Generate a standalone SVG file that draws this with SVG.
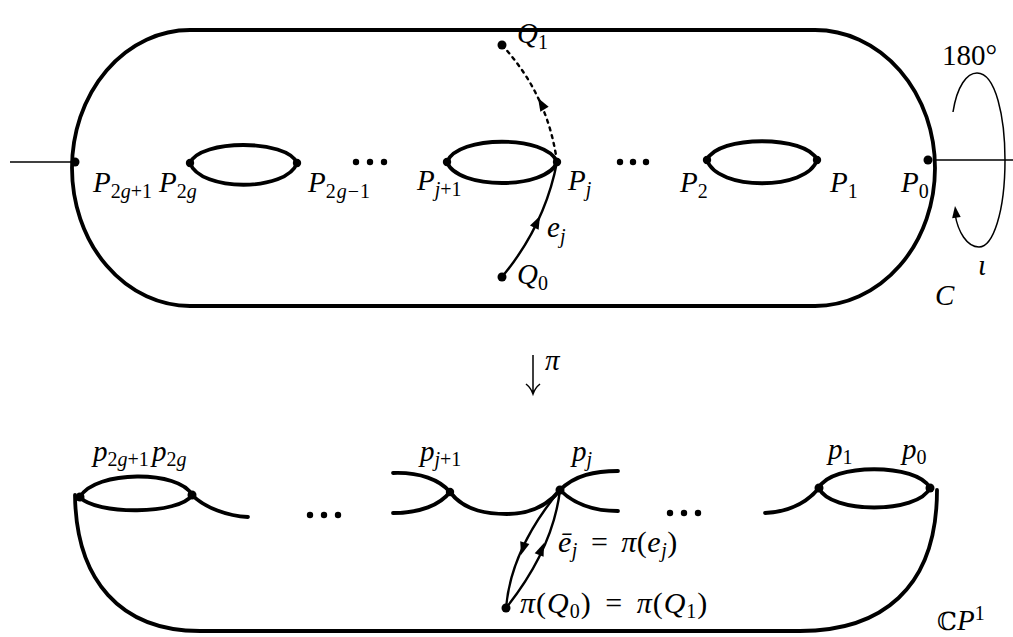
<svg xmlns="http://www.w3.org/2000/svg" xmlns:xlink="http://www.w3.org/1999/xlink" width="1013" height="637" viewBox="0 0 1013 637">
<defs>
<style>
.thick{fill:none;stroke:#000;stroke-width:3.8;stroke-linecap:round;stroke-linejoin:round}
.med{fill:none;stroke:#000;stroke-width:2.4;stroke-linecap:round}
.thin{fill:none;stroke:#000;stroke-width:1.5}
.dot{fill:#000}
.m{font-family:"Liberation Serif","DejaVu Serif",serif;font-style:italic;font-size:29px;fill:#000}
.r{font-style:normal}
.sb{font-size:20px;font-style:normal}
.it{font-style:italic}
.eq{font-size:30px;word-spacing:5px}
</style>
<path id="ah" d="M0,0 L-13,-4.8 L-13,4.8 Z" fill="#000"/>
</defs>
<rect width="1013" height="637" fill="#fff"/>

<g id="surface-C">
<path class="thick" d="M190,30 H815 A120,138 0 0 1 815,306 H190 A118,138 0 0 1 190,30 Z"/>
<line class="thin" x1="10" y1="162" x2="72" y2="162"/>
<line class="thin" x1="935" y1="160" x2="1013" y2="160"/>
</g>

<g id="top-loops">
<path class="thick" d="M190,163 C200,139 287,139 297,163 C287,192 200,192 190,163 Z"/>
<path class="thick" d="M447,162 C457,135 547,135 557,162 C547,190 457,190 447,162 Z"/>
<path class="thick" d="M707,160 C717,135 807,135 817,160 C807,191 717,191 707,160 Z"/>
</g>

<g id="top-points">
<circle class="dot" cx="75" cy="162" r="4.5"/>
<circle class="dot" cx="190" cy="163" r="4.2"/>
<circle class="dot" cx="297" cy="163" r="4.2"/>
<circle class="dot" cx="447" cy="162" r="4.2"/>
<circle class="dot" cx="557" cy="162" r="4.2"/>
<circle class="dot" cx="707" cy="160" r="4.2"/>
<circle class="dot" cx="817" cy="160" r="4.2"/>
<circle class="dot" cx="928" cy="160" r="4.5"/>
<circle class="dot" cx="502" cy="45" r="4.5"/>
<circle class="dot" cx="502" cy="277" r="4.5"/>
<circle class="dot" cx="356" cy="162" r="3.2"/><circle class="dot" cx="370" cy="162" r="3.2"/><circle class="dot" cx="384" cy="162" r="3.2"/>
<circle class="dot" cx="620" cy="162" r="3.2"/><circle class="dot" cx="633" cy="162" r="3.2"/><circle class="dot" cx="646" cy="162" r="3.2"/>
</g>

<g id="connectors">
<path class="med" d="M502,277 Q545,225 557,162"/>
<use xlink:href="#ah" transform="translate(540,216) rotate(-64)"/>
<path class="med" d="M502,45 Q548,95 557,162" stroke-dasharray="3 5" stroke-linecap="butt"/>
<use xlink:href="#ah" transform="translate(538,98) rotate(-120)"/>
<path class="thin" d="M953,112 C957,86 967,73 977,73 C996,73 1005,118 1005,160 C1005,212 993,247 979,247 C967,247 958,232 955,214"/>
<use xlink:href="#ah" transform="translate(955,206) rotate(-97) scale(0.9)"/>
<path class="thin" d="M533,355 V393 M526,384 Q531,388 533,394 Q535,388 540,384" stroke-width="1.3"/>
<path class="med" d="M560,490 Q511,549 506,608"/>
<use xlink:href="#ah" transform="translate(521,555) rotate(107)"/>
<path class="med" d="M506,608 Q553,549 560,490"/>
<use xlink:href="#ah" transform="translate(544,543) rotate(-68)"/>
</g>

<g id="bottom-CP1">
<path class="thick" d="M75,495 C76,580 120,631 200,631 H800 C880,631 937,590 937,490"/>
<path class="thick" d="M80,497 C95,470 180,470 192,495 C180,515 95,515 80,497 Z"/>
<path class="thick" d="M192,495 C205,508 228,516 248,517"/>
<path class="thick" d="M393,473 C420,472 440,480 450,492 M393,513 C420,513 440,505 450,492"/>
<path class="thick" d="M450,492 C465,512 490,514 507,514 C530,514 548,505 560,490"/>
<path class="thick" d="M560,490 C575,475 595,471 618,471 M560,490 C575,505 595,511 618,511"/>
<path class="thick" d="M819,488 C830,463 918,463 930,488 C918,514 830,514 819,488 Z"/>
<path class="thick" d="M819,488 C805,505 785,512 765,513"/>
<circle class="dot" cx="80" cy="497" r="4.5"/>
<circle class="dot" cx="192" cy="495" r="4.5"/>
<circle class="dot" cx="450" cy="492" r="4.2"/>
<circle class="dot" cx="560" cy="490" r="4.5"/>
<circle class="dot" cx="819" cy="488" r="4.5"/>
<circle class="dot" cx="930" cy="488" r="4.5"/>
<circle class="dot" cx="506" cy="608" r="4.5"/>
<circle class="dot" cx="310" cy="515" r="3.2"/><circle class="dot" cx="324" cy="515" r="3.2"/><circle class="dot" cx="338" cy="515" r="3.2"/>
<circle class="dot" cx="670" cy="513" r="3.2"/><circle class="dot" cx="684" cy="513" r="3.2"/><circle class="dot" cx="698" cy="513" r="3.2"/>
</g>

<g id="labels">
<text class="m" x="93" y="192">P<tspan class="sb" dy="6">2<tspan class="it">g</tspan>+1</tspan></text>
<text class="m" x="159" y="192">P<tspan class="sb" dy="6">2<tspan class="it">g</tspan></tspan></text>
<text class="m" x="308" y="192">P<tspan class="sb" dy="6" letter-spacing="1">2<tspan class="it">g</tspan>−1</tspan></text>
<text class="m" x="417" y="190">P<tspan class="sb it" dy="6">j</tspan><tspan class="sb">+1</tspan></text>
<text class="m" x="568" y="190">P<tspan class="sb it" dy="6">j</tspan></text>
<text class="m" x="680" y="192">P<tspan class="sb" dy="6">2</tspan></text>
<text class="m" x="830" y="192">P<tspan class="sb" dy="6">1</tspan></text>
<text class="m" x="901" y="192">P<tspan class="sb" dy="6">0</tspan></text>
<text class="m" x="517" y="43">Q<tspan class="sb" dy="6">1</tspan></text>
<text class="m" x="517" y="284">Q<tspan class="sb" dy="6">0</tspan></text>
<text class="m" x="547" y="237">e<tspan class="sb it" dy="6">j</tspan></text>
<text class="m r" x="942" y="65">180°</text>
<text class="m" x="978" y="275">ι</text>
<text class="m" x="935" y="305">C</text>
<text class="m" x="545" y="370" font-size="21">π</text>
<text class="m" x="93" y="461">p<tspan class="sb" dy="5">2<tspan class="it">g</tspan>+1</tspan></text>
<text class="m" x="152" y="461">p<tspan class="sb" dy="5">2<tspan class="it">g</tspan></tspan></text>
<text class="m" x="420" y="461">p<tspan class="sb it" dy="5">j</tspan><tspan class="sb">+1</tspan></text>
<text class="m" x="572" y="461">p<tspan class="sb it" dy="5">j</tspan></text>
<text class="m" x="828" y="459">p<tspan class="sb" dy="5">1</tspan></text>
<text class="m" x="902" y="459">p<tspan class="sb" dy="5">0</tspan></text>
<text class="m eq" x="558" y="552" letter-spacing="0.5">ē<tspan class="sb it" dy="5">j</tspan><tspan class="r" dy="-5"> = </tspan>π<tspan class="r">(</tspan>e<tspan class="sb it" dy="5">j</tspan><tspan class="r" dy="-5">)</tspan></text>
<text class="m eq" x="520" y="613" letter-spacing="1">π<tspan class="r">(</tspan>Q<tspan class="sb" dy="5">0</tspan><tspan class="r" dy="-5">) = </tspan>π<tspan class="r">(</tspan>Q<tspan class="sb" dy="5">1</tspan><tspan class="r" dy="-5">)</tspan></text>
<text class="m" x="937" y="630"><tspan class="r" font-family="DejaVu Serif" font-size="25">ℂ</tspan>P<tspan class="sb" dy="-10">1</tspan></text>
</g>
</svg>
